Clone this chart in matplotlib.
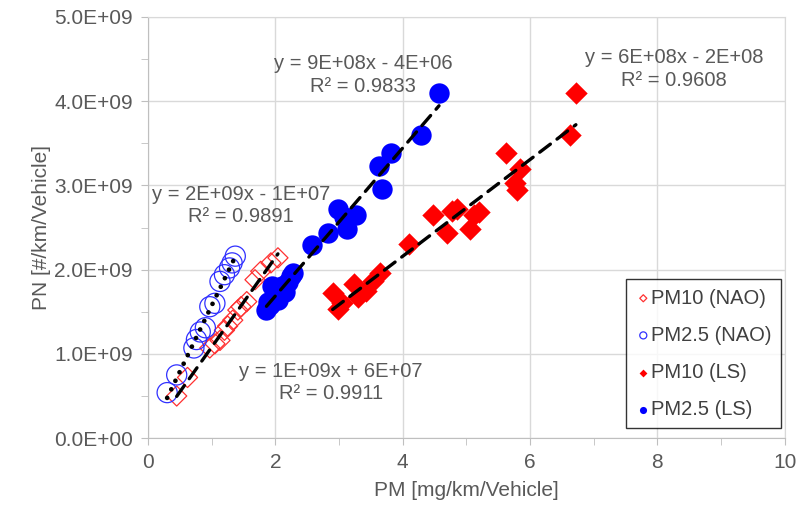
"""
PN vs PM scatter with linear trendlines
"""
import numpy as np
import matplotlib
matplotlib.use("Agg")
import matplotlib.pyplot as plt
from matplotlib.ticker import MultipleLocator, FuncFormatter

plt.rcParams['font.family'] = ['Liberation Sans', 'DejaVu Sans']

# PM10 (NAO) - open red diamonds
pm10_nao_x = [0.45, 0.62, 0.97, 1.05, 1.13, 1.2, 1.25, 1.33, 1.41, 1.46, 1.68, 1.77, 1.93, 2.04, 1.55]
pm10_nao_y = [0.50, 0.72, 1.07, 1.12, 1.16, 1.28, 1.33, 1.40, 1.52, 1.56, 1.88, 1.98, 2.08, 2.14, 1.62]

# PM2.5 (NAO) - open blue circles
pm25_nao_x = [0.30, 0.45, 0.72, 0.76, 0.82, 0.9, 0.97, 1.05, 1.13, 1.2, 1.28, 1.32, 1.37]
pm25_nao_y = [0.54, 0.75, 1.07, 1.17, 1.26, 1.31, 1.56, 1.60, 1.86, 1.94, 2.02, 2.08, 2.16]

# PM10 (LS) - filled red diamonds
pm10_ls_x = [2.9, 2.98, 3.05, 3.24, 3.3, 3.42, 3.53, 3.65, 4.1, 4.48, 4.7, 4.78, 4.85,
             5.05, 5.12, 5.2, 5.62, 5.76, 5.8, 5.84, 6.62, 6.72]
pm10_ls_y = [1.72, 1.53, 1.60, 1.83, 1.67, 1.75, 1.86, 1.96, 2.30, 2.65, 2.43, 2.70, 2.72,
             2.48, 2.65, 2.68, 3.39, 3.03, 2.95, 3.19, 3.60, 4.10]

# PM2.5 (LS) - filled blue circles
pm25_ls_x = [1.86, 1.88, 1.92, 1.95, 2.0, 2.04, 2.1, 2.15, 2.2, 2.25, 2.28, 2.57, 2.83,
             2.98, 3.08, 3.13, 3.27, 3.63, 3.67, 3.81, 4.29, 4.57]
pm25_ls_y = [1.52, 1.62, 1.58, 1.80, 1.70, 1.64, 1.80, 1.74, 1.85, 1.92, 1.96, 2.29, 2.43,
             2.72, 2.62, 2.48, 2.65, 3.23, 2.96, 3.38, 3.60, 4.10]

eq_labels = {
    "pm10_nao": "y = 1E+09x + 6E+07\nR² = 0.9911",
    "pm25_nao": "y = 2E+09x - 1E+07\nR² = 0.9891",
    "pm10_ls": "y = 6E+08x - 2E+08\nR² = 0.9608",
    "pm25_ls": "y = 9E+08x - 4E+06\nR² = 0.9833",
}

GRAY = "#595959"
GRID = "#d9d9d9"


def trendline(ax, xs, ys, ls, lw=2.4):
    x = np.array(xs)
    y = np.array(ys) * 1e9
    k, b = np.polyfit(x, y, 1)
    xx = np.array([x.min(), x.max()])
    ax.plot(xx, k * xx + b, color="black", lw=lw, ls=ls,
            dash_capstyle="round", solid_capstyle="butt", zorder=5)


def main():
    fig = plt.figure(figsize=(8.09, 5.13), dpi=100)
    ax = fig.add_axes([0.183, 0.146, 0.787, 0.821])

    ax.scatter(pm10_nao_x, np.array(pm10_nao_y) * 1e9, marker="D", s=105,
               facecolors="none", edgecolors="#ff3030", linewidths=0.9, label="PM10 (NAO)", zorder=3)
    ax.scatter(pm25_nao_x, np.array(pm25_nao_y) * 1e9, marker="o", s=210,
               facecolors="none", edgecolors="#3030ff", linewidths=0.9, label="PM2.5 (NAO)", zorder=3)
    ax.scatter(pm10_ls_x, np.array(pm10_ls_y) * 1e9, marker="D", s=130,
               color="#ff0000", linewidths=0, label="PM10 (LS)", zorder=3)
    ax.scatter(pm25_ls_x, np.array(pm25_ls_y) * 1e9, marker="o", s=215,
               color="#0000ff", linewidths=0, label="PM2.5 (LS)", zorder=3)

    trendline(ax, pm10_nao_x, pm10_nao_y, (0, (4, 2.5)))
    trendline(ax, pm25_nao_x, pm25_nao_y, (0, (0.01, 2.0)), lw=3.4)
    trendline(ax, pm10_ls_x, pm10_ls_y, (0, (4, 2.5)))
    trendline(ax, pm25_ls_x, pm25_ls_y, (0, (4, 2.5)))

    ax.set_xlim(0, 10)
    ax.set_ylim(0, 5e9)
    ax.xaxis.set_major_locator(MultipleLocator(2))
    ax.xaxis.set_minor_locator(MultipleLocator(1))
    ax.yaxis.set_major_locator(MultipleLocator(1e9))
    ax.yaxis.set_minor_locator(MultipleLocator(0.5e9))
    ax.yaxis.set_major_formatter(FuncFormatter(lambda v, p: f"{v:.1E}"))
    ax.grid(True, which="major", color=GRID, lw=1)
    ax.set_axisbelow(True)

    for side in ["top", "right"]:
        ax.spines[side].set_color(GRID)
    for side in ["left", "bottom"]:
        ax.spines[side].set_color("#bfbfbf")
    ax.tick_params(which="both", direction="out", length=5, color="#bfbfbf",
                   labelsize=15, labelcolor=GRAY, pad=6)

    ax.set_xlabel("PM [mg/km/Vehicle]", fontsize=15, color=GRAY, labelpad=6)
    ax.set_ylabel("PN [#/km/Vehicle]", fontsize=15, color=GRAY, labelpad=2)

    txt = dict(fontsize=14.5, color=GRAY, ha="center", va="center", multialignment="center",
               linespacing=1.25, zorder=6)
    ax.text(3.38, 4.31e9, eq_labels["pm25_ls"], **txt)
    ax.text(8.26, 4.38e9, eq_labels["pm10_ls"], **txt)
    ax.text(1.46, 2.76e9, eq_labels["pm25_nao"], **txt)
    ax.text(2.87, 0.66e9, eq_labels["pm10_nao"], **txt)

    leg = ax.legend(loc="lower right", bbox_to_anchor=(0.994, 0.024), borderaxespad=0,
                    fontsize=14.5, frameon=True, fancybox=False, edgecolor="black",
                    handletextpad=0.0, handlelength=0.8, labelspacing=0.9,
                    markerscale=0.35, borderpad=0.45)
    leg.get_frame().set_linewidth(1.0)
    for t in leg.get_texts():
        t.set_color("#404040")

    fig.savefig("out.png", dpi=100)
    plt.close(fig)


if __name__ == '__main__':
    main()
